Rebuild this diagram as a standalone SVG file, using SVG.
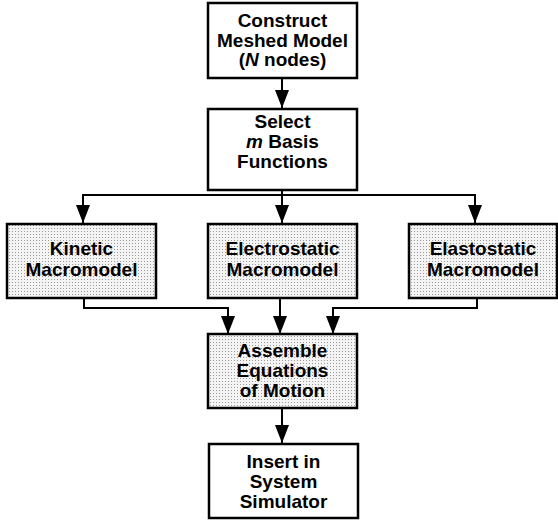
<svg xmlns="http://www.w3.org/2000/svg" width="558" height="521" viewBox="0 0 558 521">
<defs>
<pattern id="dots" width="3" height="3" patternUnits="userSpaceOnUse">
<rect width="3" height="3" fill="#f4f4f4"/>
<rect width="1" height="1" fill="#9a9a9a"/>
</pattern>
<marker id="ah" markerWidth="18" markerHeight="14" refX="18" refY="7" orient="auto" markerUnits="userSpaceOnUse" viewBox="0 0 18 14">
<path d="M0,0 L18,7 L0,14 Z" fill="#000"/>
</marker>
<style>
.box{fill:#fff;stroke:#000;stroke-width:2.5}
.shade{fill:url(#dots);stroke:#000;stroke-width:2.5}
.t{font-family:"Liberation Sans",Arial,sans-serif;font-weight:bold;font-size:19px;text-anchor:middle;fill:#000}
.c{fill:none;stroke:#000;stroke-width:2;marker-end:url(#ah)}
.l{fill:none;stroke:#000;stroke-width:2}
</style>
</defs>
<g id="connectors">
<path class="c" d="M282,78 V108"/>
<path class="l" d="M282,190 V195"/>
<path class="c" d="M282,195 H83 V223"/>
<path class="c" d="M282,195 V223"/>
<path class="c" d="M282,195 H475 V223"/>
<path class="c" d="M84,298 V308 H228 V334"/>
<path class="c" d="M280,298 V334"/>
<path class="c" d="M477,298 V308 H333 V334"/>
<path class="c" d="M282,408 V443"/>
</g>
<g id="construct">
<rect class="box" x="208" y="3" width="149" height="75"/>
<text class="t" x="282.5" y="27">Construct</text>
<text class="t" x="282.5" y="47">Meshed Model</text>
<text class="t" x="282.5" y="66">(<tspan font-style="italic">N</tspan> nodes)</text>
</g>
<g id="select">
<rect class="box" x="208" y="109" width="149" height="81"/>
<text class="t" x="282.5" y="128">Select</text>
<text class="t" x="282.5" y="148"><tspan font-style="italic">m</tspan> Basis</text>
<text class="t" x="282.5" y="168">Functions</text>
</g>
<g id="kinetic">
<rect class="shade" x="7" y="224" width="149" height="74"/>
<text class="t" x="81.5" y="255">Kinetic</text>
<text class="t" x="81.5" y="276">Macromodel</text>
</g>
<g id="electrostatic">
<rect class="shade" x="208" y="224" width="149" height="74"/>
<text class="t" x="282.5" y="255">Electrostatic</text>
<text class="t" x="282.5" y="276">Macromodel</text>
</g>
<g id="elastostatic">
<rect class="shade" x="409" y="224" width="148" height="74"/>
<text class="t" x="483" y="255">Elastostatic</text>
<text class="t" x="483" y="276">Macromodel</text>
</g>
<g id="assemble">
<rect class="shade" x="208" y="334" width="149" height="74"/>
<text class="t" x="282.5" y="357">Assemble</text>
<text class="t" x="282.5" y="377">Equations</text>
<text class="t" x="282.5" y="397">of Motion</text>
</g>
<g id="insert">
<rect class="box" x="209" y="444" width="149" height="74"/>
<text class="t" x="283.5" y="468">Insert in</text>
<text class="t" x="283.5" y="488">System</text>
<text class="t" x="283.5" y="508">Simulator</text>
</g>
</svg>
